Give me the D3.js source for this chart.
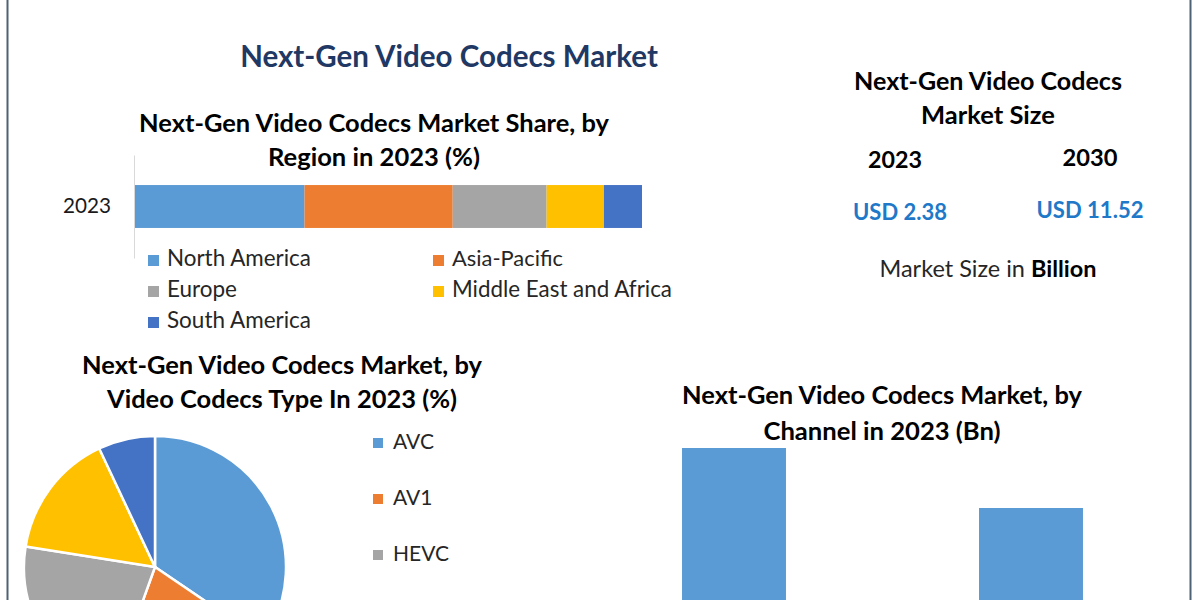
<!DOCTYPE html>
<html>
<head>
<meta charset="utf-8">
<script src="https://cdn.jsdelivr.net/npm/d3@7"></script>
<style>
  html, body { margin: 0; padding: 0; background: #ffffff; }
  svg { display: block; }
  text { font-family: Lato, "Open Sans", sans-serif; }
</style>
</head>
<body>
<svg id="chart" width="1200" height="600"></svg>
<script>
// ---------------- DATA ----------------
const mainTitle = "Next-Gen Video Codecs Market";

const regionTitle = ["Next-Gen Video Codecs Market Share, by", "Region in 2023 (%)"];
const regionYear = ["2023"];
const regions = ["North America", "Asia-Pacific", "Europe", "Middle East and Africa", "South America"];
const regionShare = [33.5, 29.2, 18.5, 11.3, 7.5];

const sizeTitle = ["Next-Gen Video Codecs", "Market Size"];
const sizeYears = ["2023", "2030"];
const sizeValues = ["USD 2.38", "USD 11.52"];
const sizeNoteA = "Market Size in ";
const sizeNoteB = "Billion";

const typeTitle = ["Next-Gen Video Codecs Market, by", "Video Codecs Type In 2023 (%)"];
const codecTypes = ["AVC", "AV1", "HEVC", "VP9", "Others"];
const codecShare = [34.5, 21.0, 22.0, 15.5, 7.0];

const channelTitle = ["Next-Gen Video Codecs Market, by", "Channel in 2023 (Bn)"];
const channels = ["Online", "Offline"];
const channelValues = [1.40, 0.98];

const palette = ["#5b9bd5", "#ed7d31", "#a5a5a5", "#ffc000", "#4472c4"];

// ---------------- HELPERS ----------------
const W = 1200, H = 600;
const svg = d3.select("#chart");

function fitText(sel, target) {
  const node = sel.node();
  const fs = parseFloat(sel.attr("font-size"));
  const len = node.getComputedTextLength();
  if (len > 0) sel.attr("font-size", (fs * target / len).toFixed(2));
  return sel;
}
function label(x, y, str, opts) {
  const t = svg.append("text")
    .attr("x", x).attr("y", y)
    .attr("text-anchor", opts.anchor || "middle")
    .attr("font-size", opts.size || 20)
    .attr("font-weight", opts.weight || "normal")
    .attr("fill", opts.color || "#000")
    .text(str);
  if (opts.width) fitText(t, opts.width);
  return t;
}

// ---------------- FRAME ----------------
svg.append("line").attr("x1", 7.5).attr("x2", 7.5).attr("y1", 0).attr("y2", H)
  .attr("stroke", "#4d6275").attr("stroke-width", 2);
svg.append("line").attr("x1", 1190.5).attr("x2", 1190.5).attr("y1", 0).attr("y2", H)
  .attr("stroke", "#4d6275").attr("stroke-width", 2);

// ---------------- MAIN TITLE ----------------
label(449, 67, mainTitle, { size: 28, weight: "bold", color: "#1f3864", width: 418 });

// ---------------- REGION STACKED BAR ----------------
label(374, 132, regionTitle[0], { size: 22, weight: "bold", width: 470 });
label(374, 166, regionTitle[1], { size: 22, weight: "bold", width: 212 });

const xR = d3.scaleLinear().domain([0, 100]).range([134.5, 642]);
const yR = d3.scaleBand().domain(regionYear).range([155, 258]).paddingInner(0).paddingOuter(0.7);

let cum = 0;
const stackData = regionShare.map((v, i) => { const d = { name: regions[i], x0: cum, x1: cum + v, i }; cum += v; return d; });

svg.append("g").selectAll("rect").data(stackData).join("rect")
  .attr("x", d => xR(d.x0))
  .attr("width", d => xR(d.x1) - xR(d.x0))
  .attr("y", yR(regionYear[0]))
  .attr("height", yR.bandwidth())
  .attr("fill", d => palette[d.i]);

const yAxisG = svg.append("g").attr("transform", `translate(${xR(0) - 0.5},0)`)
  .call(d3.axisLeft(yR).tickSize(0).tickPadding(23));
yAxisG.select(".domain").attr("stroke", "#d9d9d9").attr("stroke-width", 1);
yAxisG.selectAll("text").attr("font-family", "Lato, sans-serif").attr("font-size", 20).attr("fill", "#1a1a1a")
  .each(function () { fitText(d3.select(this), 48); });

// legend
const regLegPos = [[148, 266], [433, 266], [148, 297], [433, 297], [148, 328]];
const regLegW = [144, 111, 70, 220, 144];
regions.forEach((r, i) => {
  const [lx, ly] = regLegPos[i];
  svg.append("rect").attr("x", lx).attr("y", ly - 11).attr("width", 11).attr("height", 11).attr("fill", palette[i]);
  label(lx + 19, ly, r, { anchor: "start", size: 19, color: "#262626", width: regLegW[i] });
});

// ---------------- MARKET SIZE PANEL ----------------
label(988, 90, sizeTitle[0], { size: 22, weight: "bold", width: 268 });
label(988, 124, sizeTitle[1], { size: 22, weight: "bold", width: 134 });
label(895, 168, sizeYears[0], { size: 22, weight: "bold", width: 54 });
label(1090, 166, sizeYears[1], { size: 22, weight: "bold", width: 55 });
label(900, 220, sizeValues[0], { size: 20, weight: "bold", color: "#2078c8", width: 94 });
label(1090, 218, sizeValues[1], { size: 20, weight: "bold", color: "#2078c8", width: 107 });
const note = svg.append("text").attr("x", 988).attr("y", 277).attr("text-anchor", "middle")
  .attr("font-size", 20).attr("fill", "#262626");
note.append("tspan").text(sizeNoteA);
note.append("tspan").attr("font-weight", "bold").attr("fill", "#000").text(sizeNoteB);
fitText(note, 217);

// ---------------- PIE ----------------
label(282, 374, typeTitle[0], { size: 22, weight: "bold", width: 400 });
label(282, 408, typeTitle[1], { size: 22, weight: "bold", width: 350 });

const pieData = d3.pie().sort(null).value(d => d.v)(codecShare.map((v, i) => ({ v, i, name: codecTypes[i] })));
const arc = d3.arc().innerRadius(0).outerRadius(131);
svg.append("g").attr("transform", "translate(155,567)")
  .selectAll("path").data(pieData).join("path")
  .attr("d", arc)
  .attr("fill", d => palette[d.data.i])
  .attr("stroke", "#ffffff").attr("stroke-width", 2.5);

// legend: entries that fall below the visible area are not drawn (the reference crops them)
codecTypes.forEach((c, i) => {
  const ly = 449 + i * 56;
  if (ly + 6 > H) return;
  svg.append("rect").attr("x", 373).attr("y", ly - 11).attr("width", 10).attr("height", 10).attr("fill", palette[i]);
  svg.append("text").attr("x", 393).attr("y", ly).attr("font-size", 21).attr("fill", "#262626").text(c);
});

// ---------------- CHANNEL BARS ----------------
label(882, 404, channelTitle[0], { size: 22, weight: "bold", width: 400 });
label(882, 440, channelTitle[1], { size: 22, weight: "bold", width: 237 });

const xC = d3.scaleBand().domain(channels).range([585.5, 1179.5]).paddingInner(0.65).paddingOuter(0.325);
const yC = d3.scaleLinear().domain([0, 1.4]).range([648, 448]);

svg.append("g").selectAll("rect").data(channels).join("rect")
  .attr("x", d => xC(d))
  .attr("width", xC.bandwidth())
  .attr("y", (d, i) => yC(channelValues[i]))
  .attr("height", (d, i) => yC(0) - yC(channelValues[i]))
  .attr("fill", palette[0]);
</script>
</body>
</html>
